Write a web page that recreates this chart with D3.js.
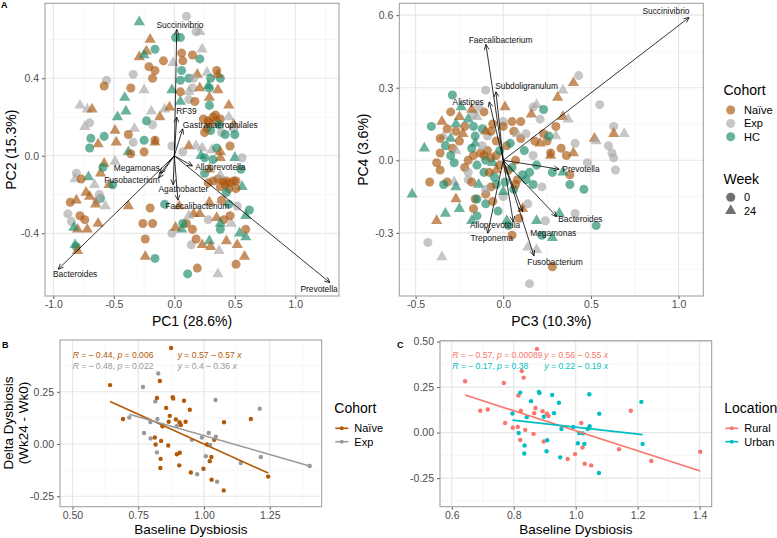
<!DOCTYPE html>
<html><head><meta charset="utf-8">
<script src="https://cdn.jsdelivr.net/npm/d3@7"></script>
<style>body{margin:0;background:#fff}text{font-family:"Liberation Sans",Arial,Helvetica,sans-serif}</style>
</head><body>
<svg id="chart" width="777" height="538"></svg>
<script>
// ---------------- DATA ----------------
const cohortNames = {N: "Naïve", E: "Exp", H: "HC"};
const cohortOrder = ["N", "E", "H"];
const weekOrder = [0, 24];

// PCA scores: [PC1, PC2, cohort, week]
const pc12Points = [
[-0.29,0.69,"H",24],[0.10,0.72,"E",0],[0.01,0.61,"H",0],[0.05,0.61,"H",0],[0.18,0.64,"E",0],[0.21,0.64,"E",24],
[-0.20,0.60,"N",24],[-0.23,0.54,"N",24],[-0.16,0.55,"H",0],[-0.29,0.51,"N",24],[-0.25,0.52,"H",24],[-0.09,0.49,"N",0],
[0.06,0.53,"N",0],[0.15,0.52,"N",0],[0.21,0.50,"H",0],[0.23,0.55,"E",24],[-0.01,0.48,"E",24],[0.07,0.49,"N",0],
[-0.21,0.46,"N",0],[-0.16,0.44,"N",0],[-0.18,0.40,"N",0],[0.06,0.44,"H",0],[0.19,0.42,"N",24],[0.27,0.43,"E",24],
[0.35,0.44,"N",0],[0.30,0.40,"H",0],[0.28,0.36,"H",24],[-0.34,0.42,"E",0],[-0.56,0.39,"E",0],[-0.58,0.36,"N",0],
[-0.25,0.34,"E",24],[-0.36,0.35,"N",0],[-0.41,0.30,"H",24],[-0.02,0.34,"H",24],[0.05,0.33,"N",0],[0.05,0.39,"H",0],
[0.12,0.40,"H",0],[0.15,0.35,"E",0],[0.38,0.40,"H",0],[0.29,0.35,"H",0],[0.36,0.34,"N",24],[0.12,0.33,"E",24],
[0.21,0.35,"N",24],[0.29,0.30,"N",24],[0.12,0.29,"E",0],[0.05,0.28,"H",24],[0.17,0.28,"N",0],[0.29,0.26,"H",0],
[0.45,0.26,"N",24],[-0.08,0.24,"E",24],[-0.04,0.25,"N",24],[-0.78,0.26,"E",24],[-0.72,0.24,"E",24],[-0.68,0.24,"N",24],
[-0.47,0.20,"H",24],[-0.40,0.23,"H",24],[-0.12,0.20,"N",24],[-0.19,0.23,"E",24],[-0.18,0.16,"E",0],[-0.23,0.18,"H",0],
[-0.74,0.15,"E",24],[-0.70,0.17,"E",0],[-0.69,0.09,"H",0],[-0.58,0.10,"H",0],[-0.49,0.13,"N",24],[-0.33,0.14,"E",24],
[-0.48,0.07,"N",24],[-0.38,0.11,"N",0],[0.24,0.19,"N",0],[0.28,0.18,"N",0],[0.32,0.20,"N",0],[0.29,0.17,"N",0],
[0.35,0.18,"N",0],[0.27,0.14,"N",0],[0.34,0.21,"N",0],[0.38,0.19,"N",0],[0.37,0.16,"H",0],[0.39,0.12,"E",0],
[0.30,0.13,"H",0],[0.25,0.12,"N",0],[0.42,0.11,"H",0],[0.45,0.20,"E",24],[0.49,0.16,"N",24],[0.49,0.14,"E",0],
[0.50,0.11,"H",0],[-0.70,0.04,"H",0],[-0.63,0.06,"N",24],[-0.25,0.08,"H",0],[-0.16,0.08,"N",0],[-0.16,0.07,"N",24],
[-0.25,0.02,"N",0],[-0.34,0.07,"E",0],[-0.38,0.02,"H",24],[-0.36,0.01,"N",0],[-0.49,-0.03,"E",24],[-0.58,-0.04,"N",24],
[0.12,0.05,"N",24],[0.18,0.05,"E",24],[-0.02,0.05,"E",0],[0.07,0.02,"E",0],[0.23,0.04,"E",24],[0.25,-0.01,"H",0],
[0.22,0.00,"H",24],[0.31,0.03,"E",24],[0.35,0.04,"H",0],[0.38,0.02,"N",24],[0.46,0.05,"N",0],[0.50,-0.01,"H",24],
[0.56,-0.01,"E",0],[0.38,-0.01,"N",24],[0.32,-0.02,"H",0],[-0.81,-0.09,"E",0],[-0.82,-0.12,"E",24],[-0.71,-0.11,"H",24],
[-0.61,-0.09,"N",24],[-0.59,-0.06,"H",0],[-0.77,-0.12,"N",0],[-0.54,-0.15,"N",24],[-0.51,-0.15,"H",0],[-0.66,-0.15,"E",24],
[0.32,-0.13,"N",0],[0.36,-0.12,"N",0],[0.40,-0.13,"N",0],[0.43,-0.13,"N",0],[0.46,-0.14,"N",0],[0.49,-0.13,"N",0],
[0.38,-0.16,"N",0],[0.42,-0.15,"N",0],[0.45,-0.17,"N",0],[0.28,-0.14,"N",0],[0.51,-0.13,"N",0],[0.25,-0.09,"H",0],
[0.29,-0.07,"N",24],[0.38,-0.10,"E",24],[0.55,-0.07,"H",0],[0.56,-0.16,"H",24],[0.51,-0.17,"N",0],[0.43,-0.19,"H",0],
[-0.73,-0.19,"N",24],[-0.81,-0.23,"N",24],[-0.86,-0.24,"N",0],[-0.61,-0.22,"H",0],[-0.62,-0.20,"E",0],[-0.64,-0.23,"E",0],
[-0.70,-0.21,"N",24],[-0.65,-0.25,"N",24],[-0.57,-0.26,"E",24],[-0.20,-0.27,"N",0],[-0.38,-0.26,"N",24],[-0.08,-0.25,"H",0],
[0.04,-0.26,"N",24],[0.29,-0.24,"N",24],[0.45,-0.25,"H",0],[0.39,-0.23,"N",0],[0.62,-0.28,"H",0],[0.59,-0.31,"H",24],
[0.52,-0.26,"E",0],[-0.26,-0.35,"N",0],[-0.18,-0.35,"N",0],[0.16,-0.30,"N",24],[0.12,-0.31,"E",24],[0.10,-0.35,"N",0],
[0.21,-0.30,"N",24],[0.28,-0.33,"E",0],[0.35,-0.32,"N",24],[0.41,-0.33,"N",0],[0.47,-0.35,"E",24],[0.46,-0.31,"N",0],
[0.06,-0.38,"H",24],[0.15,-0.38,"N",0],[-0.88,-0.30,"E",0],[-0.78,-0.31,"N",0],[-0.85,-0.34,"E",0],[-0.74,-0.33,"N",0],
[-0.80,-0.38,"N",24],[-0.72,-0.38,"N",24],[-0.83,-0.37,"H",24],[-0.63,-0.35,"N",24],[-0.02,-0.40,"E",0],[0.01,-0.37,"N",24],
[0.07,-0.35,"H",0],[-0.24,-0.43,"N",0],[-0.24,-0.52,"N",24],[-0.16,-0.53,"H",0],[0.14,-0.46,"E",0],[0.23,-0.46,"N",24],
[0.18,-0.43,"N",0],[0.29,-0.44,"H",24],[0.38,-0.35,"H",24],[0.38,-0.38,"H",0],[0.43,-0.44,"N",24],[0.52,-0.46,"N",24],
[0.54,-0.40,"H",24],[0.59,-0.42,"H",24],[0.59,-0.38,"N",0],[-0.82,-0.46,"H",24],[-0.81,-0.47,"H",0],[-0.80,-0.49,"N",24],
[0.30,-0.47,"N",24],[0.37,-0.49,"E",24],[0.58,-0.52,"N",24],[0.51,-0.56,"N",0],[0.19,-0.58,"N",0],[0.11,-0.61,"H",0],
[0.36,-0.61,"E",24],[0.16,0.40,"E",0],[0.36,0.42,"N",24]
];

// PCA scores: [PC3, PC4, cohort, week]
const pc34Points = [
[0.43,0.35,"E",0],[0.40,0.32,"N",24],[0.34,0.29,"E",24],[0.31,0.26,"N",24],[0.55,0.23,"E",0],[0.19,0.23,"E",24],
[0.17,0.22,"E",0],[0.23,0.21,"H",0],[0.16,0.19,"N",24],[0.21,0.17,"E",0],[0.34,0.18,"N",24],[0.37,0.17,"E",24],
[0.63,0.14,"E",0],[0.63,0.11,"N",24],[0.69,0.11,"E",24],[0.52,0.09,"N",24],[0.53,0.08,"E",24],[0.60,0.06,"E",0],
[0.62,0.03,"E",0],[0.63,0.01,"E",0],[0.64,-0.04,"E",0],[0.48,-0.01,"E",0],[0.41,0.07,"E",0],[0.40,0.03,"N",24],
[0.36,0.02,"N",0],[0.33,0.05,"N",0],[0.38,-0.06,"N",0],[0.38,-0.10,"H",0],[0.46,-0.12,"H",0],[0.28,-0.05,"H",0],
[0.27,0.03,"N",0],[0.34,-0.05,"H",24],[-0.10,0.29,"E",0],[-0.29,0.27,"H",0],[0.01,0.22,"N",24],[-0.24,0.22,"H",24],
[-0.30,0.20,"N",0],[-0.17,0.19,"E",0],[-0.11,0.20,"N",0],[-0.41,0.14,"H",0],[-0.35,0.16,"N",24],[-0.27,0.15,"H",24],
[-0.32,0.13,"N",0],[-0.34,0.10,"E",24],[-0.27,0.12,"N",0],[-0.22,0.14,"N",0],[-0.17,0.14,"H",0],[-0.16,0.07,"H",24],
[-0.36,0.09,"N",0],[-0.33,0.06,"H",0],[-0.29,0.05,"N",0],[-0.45,0.05,"H",24],[-0.27,0.04,"E",24],[-0.36,0.03,"N",0],
[-0.30,0.02,"H",0],[-0.38,-0.01,"N",0],[-0.36,-0.04,"N",0],[-0.28,-0.01,"H",0],[-0.42,-0.09,"N",0],[-0.52,-0.14,"H",24],
[-0.32,-0.09,"N",0],[-0.34,-0.10,"H",0],[-0.28,-0.09,"E",24],[-0.27,-0.11,"H",24],[-0.27,-0.16,"N",24],[-0.33,-0.22,"H",24],
[-0.25,-0.20,"H",24],[-0.38,-0.25,"N",24],[-0.43,-0.34,"E",0],[-0.35,-0.40,"E",24],[-0.20,-0.08,"E",0],[-0.18,-0.09,"N",0],
[-0.14,-0.10,"H",24],[-0.16,-0.16,"N",0],[-0.15,-0.16,"H",0],[-0.17,-0.20,"N",0],[-0.10,-0.18,"H",0],[-0.10,-0.14,"N",0],
[-0.03,-0.21,"H",0],[0.00,-0.15,"E",0],[0.00,-0.13,"H",24],[-0.06,-0.17,"N",0],[-0.18,-0.25,"H",24],[-0.15,-0.23,"H",0],
[0.05,-0.31,"N",0],[0.02,-0.25,"H",24],[0.03,-0.27,"H",0],[0.14,-0.36,"E",24],[0.19,-0.37,"E",24],[0.28,-0.44,"N",0],
[0.15,-0.51,"E",0],[0.14,-0.18,"E",0],[0.11,-0.20,"N",24],[0.19,-0.25,"H",24],[0.24,-0.25,"E",0],[0.32,-0.22,"H",24],
[0.41,-0.22,"E",0],[0.53,-0.27,"H",0],[0.28,-0.32,"H",24],[0.22,-0.31,"H",0],[0.09,-0.24,"N",0],[0.13,-0.08,"H",0],
[0.17,-0.10,"H",0],[0.22,-0.11,"E",0],[0.08,-0.08,"N",0],[0.11,-0.06,"H",0],[0.15,-0.05,"H",0],[0.19,-0.02,"H",0],
[0.17,0.02,"E",0],[0.12,0.04,"H",0],[0.18,0.08,"N",0],[0.10,0.09,"N",0],[0.13,0.11,"E",0],[0.06,0.12,"N",0],
[0.05,0.16,"N",0],[0.10,0.16,"N",0],[0.00,0.16,"E",0],[0.08,0.11,"E",24],[0.00,0.14,"N",0],[0.27,0.02,"N",24],
[0.21,0.07,"N",24],[0.25,0.08,"N",0],[0.30,0.10,"E",24],[0.23,0.11,"N",0],[0.30,0.14,"N",0],[0.26,0.10,"H",0],
[-0.13,0.03,"N",0],[-0.11,0.02,"N",0],[-0.09,0.04,"N",0],[-0.10,0.00,"H",0],[-0.07,0.01,"N",0],[-0.06,-0.01,"H",24],
[-0.04,0.02,"N",0],[-0.02,0.04,"H",0],[-0.17,0.02,"N",0],[-0.20,0.00,"N",0],[-0.15,-0.02,"H",0],[-0.22,-0.03,"N",0],
[-0.20,-0.05,"E",0],[-0.11,-0.05,"H",0],[-0.08,-0.05,"N",0],[-0.04,-0.04,"N",24],[-0.05,-0.07,"H",0],[0.03,-0.04,"N",0],
[0.05,-0.03,"H",0],[0.07,0.00,"N",0],[0.02,0.06,"N",0],[0.04,0.07,"H",0],[-0.04,0.08,"N",0],[-0.09,0.10,"E",0],
[-0.07,0.12,"N",0],[-0.12,0.13,"H",0],[-0.06,0.15,"N",0],[-0.16,0.10,"H",0],[-0.10,0.12,"N",24],[-0.18,0.05,"H",0],
[-0.25,0.08,"N",0],[-0.12,0.06,"E",0],[-0.02,-0.02,"N",0],[0.01,-0.09,"H",0],[-0.04,-0.10,"H",0],[-0.07,-0.11,"N",0],
[-0.10,-0.12,"E",0],[0.06,-0.12,"H",0],[0.07,-0.10,"N",0],[-0.25,0.18,"N",24],[-0.20,0.17,"H",24],[-0.15,0.18,"E",24],
[-0.23,0.11,"N",24],[-0.30,0.09,"H",24],[-0.18,0.21,"N",24],[-0.14,0.22,"E",0]
];

// Loadings: [taxon, PC1, PC2, labelPC1, labelPC2]
const loadings12 = [
["Succinivibrio",0.02,0.652,0.047,0.675],["RF39",0.02,0.20,0.10,0.23],
["Gastranaerophilales",0.07,0.14,0.38,0.16],["Alloprevotella",0.15,-0.053,0.38,-0.06],
["Megamonas",-0.118,-0.091,-0.31,-0.065],["Fusobacterium",-0.13,-0.115,-0.35,-0.125],
["Agathobacter",-0.01,-0.15,0.075,-0.172],["Faecalibacterium",0.03,-0.23,0.19,-0.258],
["Bacteroides",-0.96,-0.586,-0.82,-0.612],["Prevotella",1.287,-0.655,1.196,-0.69]
];
// Loadings: [taxon, PC3, PC4, labelPC3, labelPC4]
const loadings34 = [
["Succinivibrio",1.061,0.591,0.928,0.618],["Faecalibacterium",-0.099,0.479,-0.015,0.497],
["Subdoligranulum",-0.042,0.284,0.133,0.307],["Alistipes",-0.08,0.242,-0.20,0.242],
["Prevotella",0.32,-0.037,0.443,-0.036],["Bacteroides",0.305,-0.233,0.44,-0.245],
["Megamonas",0.11,-0.212,0.285,-0.30],["Alloprevotella",0.057,-0.254,-0.047,-0.267],
["Treponema",-0.089,-0.302,-0.066,-0.321],["Fusobacterium",0.175,-0.395,0.295,-0.419]
];

// Dysbiosis: [baseline, delta, cohort, location]
const dysbiosis = [
[0.643,0.282,"Naïve","Rural"],[0.692,0.120,"Naïve","Rural"],[0.716,0.127,"Exp","Rural"],[0.768,0.273,"Exp","Rural"],
[0.772,0.053,"Exp","Rural"],[0.797,0.027,"Exp","Rural"],[0.813,0.031,"Naïve","Rural"],[0.815,0.204,"Exp","Rural"],
[0.823,0.120,"Exp","Rural"],[0.826,0.338,"Exp","Rural"],[0.832,0.302,"Naïve","Rural"],[0.837,0.015,"Naïve","Rural"],
[0.821,-0.040,"Exp","Rural"],[0.864,-0.007,"Naïve","Rural"],[0.870,0.135,"Naïve","Rural"],[0.866,0.107,"Naïve","Rural"],
[0.875,0.460,"Naïve","Rural"],[0.893,0.118,"Naïve","Rural"],[0.907,0.104,"Naïve","Rural"],[0.912,0.091,"Naïve","Rural"],
[0.897,-0.049,"Naïve","Rural"],[0.974,-0.145,"Exp","Rural"],[0.998,-0.118,"Naïve","Rural"],[1.018,0.053,"Exp","Rural"],
[1.022,-0.082,"Naïve","Rural"],[1.029,-0.171,"Naïve","Rural"],[1.050,-0.180,"Exp","Rural"],[1.140,-0.091,"Exp","Rural"],
[1.178,0.120,"Naïve","Rural"],[1.244,-0.156,"Naïve","Rural"],[1.402,-0.105,"Exp","Rural"],
[0.796,0.105,"Exp","Urban"],[0.821,0.220,"Naïve","Urban"],[0.816,-0.002,"Naïve","Urban"],[0.835,-0.071,"Naïve","Urban"],
[0.834,-0.115,"Naïve","Urban"],[0.842,0.085,"Naïve","Urban"],[0.856,0.173,"Naïve","Urban"],[0.881,0.224,"Naïve","Urban"],
[0.883,0.218,"Naïve","Urban"],[0.897,0.087,"Exp","Urban"],[0.908,-0.042,"Naïve","Urban"],[0.906,-0.102,"Naïve","Urban"],
[0.924,0.207,"Naïve","Urban"],[0.930,0.107,"Naïve","Urban"],[0.946,0.164,"Naïve","Urban"],[0.954,0.020,"Exp","Urban"],
[0.950,-0.136,"Naïve","Urban"],[0.992,0.031,"Exp","Urban"],[1.007,-0.058,"Exp","Urban"],[1.011,-0.002,"Naïve","Urban"],
[1.023,-0.004,"Exp","Urban"],[1.028,-0.062,"Naïve","Urban"],[1.044,0.211,"Exp","Urban"],[1.045,0.035,"Exp","Urban"],
[1.039,0.020,"Naïve","Urban"],[1.076,0.104,"Naïve","Urban"],[1.075,-0.222,"Naïve","Urban"],[1.212,0.169,"Exp","Urban"],
[1.216,-0.062,"Exp","Urban"]
];

// Fits: [group, intercept, slope, R label, p label, intercept label, slope label]
const cohortFits = [["Naïve",0.57,-0.57,"−0.44","0.006","0.57","0.57"],["Exp",0.40,-0.36,"−0.48","0.022","0.4","0.36"]];
const locationFits = [["Rural",0.56,-0.55,"−0.57","0.00089","0.56","0.55"],["Urban",0.22,-0.19,"−0.17","0.38","0.22","0.19"]];

// Ticks
const pc1Ticks = [-1.0,-0.5,0,0.5,1.0], pc1Minor = [-0.75,-0.25,0.25,0.75,1.25];
const pc2Ticks = [-0.4,0,0.4], pc2Minor = [-0.6,-0.2,0.2,0.6];
const pc3Ticks = [-0.5,0,0.5,1.0], pc3Minor = [-0.25,0.25,0.75];
const pc4Ticks = [-0.3,0,0.3,0.6], pc4Minor = [-0.45,-0.15,0.15,0.45];
const bXTicks = [0.5,0.75,1.0,1.25], bXMinor = [0.625,0.875,1.125,1.375];
const bYTicks = [-0.25,0,0.25], bYMinor = [-0.125,0.125,0.375];
const cXTicks = [0.6,0.8,1.0,1.2,1.4], cXMinor = [0.7,0.9,1.1,1.3];
const cYTicks = [-0.25,0,0.25,0.5], cYMinor = [-0.375,-0.125,0.125,0.375];

// ---------------- STYLE ----------------
const pcaColor = {N: "#A9560F", E: "#A8A8A8", H: "#1B8A6B"};
const pcaOpacity = 0.66;
const cohortColor = {"Naïve": "#B35806", "Exp": "#999999"};
const locationColor = {"Rural": "#F8766D", "Urban": "#00BFC4"};
const tickGray = "#4D4D4D";

const svg = d3.select("#chart");
const hy = f => (d => f(d).replace("−", "-"));

function panel(box, xDom, yDom, xT, xM, yT, yM, xf, yf) {
  const x = d3.scaleLinear().domain(xDom).range([box.x0, box.x1]);
  const y = d3.scaleLinear().domain(yDom).range([box.y1, box.y0]);
  const g = svg.append("g");
  g.append("rect").attr("x", box.x0).attr("y", box.y0).attr("width", box.x1 - box.x0).attr("height", box.y1 - box.y0).attr("fill", "#fff");
  const grid = g.append("g");
  grid.selectAll(".vx").data(xM).join("line").attr("x1", x).attr("x2", x).attr("y1", box.y0).attr("y2", box.y1).attr("stroke", "#F2F2F2").attr("stroke-width", 0.6);
  grid.selectAll(".hy").data(yM).join("line").attr("y1", y).attr("y2", y).attr("x1", box.x0).attr("x2", box.x1).attr("stroke", "#F2F2F2").attr("stroke-width", 0.6);
  grid.selectAll(".vX").data(xT).join("line").attr("x1", x).attr("x2", x).attr("y1", box.y0).attr("y2", box.y1).attr("stroke", "#E6E6E6").attr("stroke-width", 1.1);
  grid.selectAll(".hY").data(yT).join("line").attr("y1", y).attr("y2", y).attr("x1", box.x0).attr("x2", box.x1).attr("stroke", "#E6E6E6").attr("stroke-width", 1.1);
  const ax = g.append("g").attr("transform", `translate(0,${box.y1})`)
    .call(d3.axisBottom(x).tickValues(xT).tickFormat(hy(xf)).tickSize(3).tickPadding(2));
  const ay = g.append("g").attr("transform", `translate(${box.x0},0)`)
    .call(d3.axisLeft(y).tickValues(yT).tickFormat(hy(yf)).tickSize(3).tickPadding(3));
  [ax, ay].forEach(a => {
    a.select(".domain").remove();
    a.selectAll(".tick line").attr("stroke", "#333").attr("stroke-width", 0.8);
    a.selectAll(".tick text").attr("fill", tickGray).style("font-size", "10.5px").style("font-family", "'Liberation Sans',Arial,sans-serif");
  });
  const layer = g.append("g");
  g.append("rect").attr("x", box.x0).attr("y", box.y0).attr("width", box.x1 - box.x0).attr("height", box.y1 - box.y0)
    .attr("fill", "none").attr("stroke", "#9A9A9A").attr("stroke-width", 1);
  return {x, y, layer};
}

function title(txt, xx, yy, rot, size) {
  svg.append("text").attr("transform", `translate(${xx},${yy})` + (rot ? " rotate(-90)" : ""))
    .attr("text-anchor", "middle").style("font-size", (size || 14) + "px").attr("fill", "#000").text(txt);
}

// arrow marker
svg.append("defs").append("marker").attr("id", "arr").attr("viewBox", "0 0 10 10")
  .attr("refX", 10).attr("refY", 5).attr("markerWidth", 6).attr("markerHeight", 6)
  .attr("markerUnits", "userSpaceOnUse").attr("orient", "auto")
  .append("path").attr("d", "M1,1 L10,5 L1,9").attr("fill", "none").attr("stroke", "#000").attr("stroke-width", 1.2);

function symPath(week, size) {
  return week === 0 ? d3.symbol().type(d3.symbolCircle).size(size)() : d3.symbol().type(d3.symbolTriangle).size(size * 0.85)();
}

function biplot(p, pts, loads) {
  p.layer.selectAll(".pt").data(pts).join("path")
    .attr("transform", d => `translate(${p.x(d[0])},${p.y(d[1])})`)
    .attr("d", d => symPath(d[3], 64))
    .attr("fill", d => pcaColor[d[2]]).attr("fill-opacity", pcaOpacity);
  p.layer.selectAll(".ld").data(loads).join("line")
    .attr("x1", p.x(0)).attr("y1", p.y(0)).attr("x2", d => p.x(d[1])).attr("y2", d => p.y(d[2]))
    .attr("stroke", "#000").attr("stroke-width", 0.8).attr("marker-end", "url(#arr)");
  p.layer.selectAll(".lt").data(loads).join("text")
    .attr("x", d => p.x(d[3])).attr("y", d => p.y(d[4])).attr("dy", "0.35em")
    .attr("text-anchor", "middle").style("font-size", "8.4px").attr("fill", "#111").text(d => d[0]);
}

// ---------------- PANEL A ----------------
const pA1 = panel({x0: 45, x1: 339, y0: 3.3, y1: 296}, [-1.069, 1.361], [-0.724, 0.787],
  pc1Ticks, pc1Minor, pc2Ticks, pc2Minor, d3.format(".1f"), d3.format(".1f"));
biplot(pA1, pc12Points, loadings12);
title("PC1 (28.6%)", 192, 326);
title("PC2 (15.3%)", 15.5, 149.7, true);

const pA2 = panel({x0: 399.3, x1: 703.3, y0: 3.3, y1: 296}, [-0.593, 1.141], [-0.561, 0.649],
  pc3Ticks, pc3Minor, pc4Ticks, pc4Minor, d3.format(".1f"), d3.format(".1f"));
biplot(pA2, pc34Points, loadings34);
title("PC3 (10.3%)", 551.3, 326);
title("PC4 (3.6%)", 368, 149.7, true);

// legend A
const lgA = svg.append("g");
lgA.append("text").attr("x", 723.5).attr("y", 95).style("font-size", "14px").text("Cohort");
cohortOrder.forEach((c, i) => {
  const yy = 110 + i * 13.4;
  lgA.append("path").attr("transform", `translate(730.7,${yy})`).attr("d", symPath(0, 64))
    .attr("fill", pcaColor[c]).attr("fill-opacity", pcaOpacity);
  lgA.append("text").attr("x", 744).attr("y", yy + 4).style("font-size", "11px").text(cohortNames[c]);
});
lgA.append("text").attr("x", 723.5).attr("y", 183.5).style("font-size", "14px").text("Week");
weekOrder.forEach((w, i) => {
  const yy = 197.3 + i * 13.4;
  lgA.append("path").attr("transform", `translate(730.7,${yy})`).attr("d", symPath(w, 64))
    .attr("fill", "#333").attr("fill-opacity", 0.7);
  lgA.append("text").attr("x", 744).attr("y", yy + 4).style("font-size", "11px").text(w);
});

// ---------------- PANEL B / C ----------------
function dysPanel(p, groupIdx, colors, fits, ann) {
  p.layer.selectAll(".dp").data(dysbiosis).join("circle")
    .attr("cx", d => p.x(d[0])).attr("cy", d => p.y(d[1])).attr("r", 2.2)
    .attr("fill", d => colors[d[groupIdx]]);
  fits.forEach(f => {
    const ext = d3.extent(dysbiosis.filter(d => d[groupIdx] === f[0]), d => d[0]);
    p.layer.append("line")
      .attr("x1", p.x(ext[0])).attr("y1", p.y(f[1] + f[2] * ext[0]))
      .attr("x2", p.x(ext[1])).attr("y2", p.y(f[1] + f[2] * ext[1]))
      .attr("stroke", colors[f[0]]).attr("stroke-width", 1.6);
  });
  fits.forEach((f, i) => {
    const yy = ann.y + i * 11;
    const t1 = p.layer.append("text").attr("x", ann.x1).attr("y", yy).style("font-size", "8.6px").attr("fill", colors[f[0]]);
    t1.append("tspan").style("font-style", "italic").text("R");
    t1.append("tspan").text(" = " + f[3].replace("−", "– ") + ", ");
    t1.append("tspan").style("font-style", "italic").text("p");
    t1.append("tspan").text(" = " + f[4]);
    const t2 = p.layer.append("text").attr("x", ann.x2).attr("y", yy).style("font-size", "8.6px").attr("fill", colors[f[0]]);
    t2.append("tspan").style("font-style", "italic").text("y");
    t2.append("tspan").text(" = " + f[5] + " – " + f[6] + " ");
    t2.append("tspan").style("font-style", "italic").text("x");
  });
}

const pB = panel({x0: 60, x1: 321.7, y0: 340, y1: 506.7}, [0.4525, 1.4475], [-0.300, 0.498],
  bXTicks, bXMinor, bYTicks, bYMinor, d3.format(".2f"), d3.format(".2f"));
dysPanel(pB, 2, cohortColor, cohortFits, {x1: 72.7, x2: 177.7, y: 358});
title("Baseline Dysbiosis", 190.8, 534, false, 13.5);
title("Delta Dysbiosis", 13, 423, true, 13.5);
title("(Wk24 - Wk0)", 28, 423, true, 13.5);

const pC = panel({x0: 440, x1: 711.7, y0: 340.7, y1: 506.7}, [0.562, 1.439], [-0.407, 0.505],
  cXTicks, cXMinor, cYTicks, cYMinor, d3.format(".1f"), d3.format(".2f"));
dysPanel(pC, 3, locationColor, locationFits, {x1: 452.3, x2: 544.3, y: 358});
title("Baseline Dysbiosis", 575.8, 534, false, 13.5);

function lineLegend(x, ttl, keys, colors) {
  const g = svg.append("g");
  g.append("text").attr("x", x).attr("y", 413).style("font-size", "14px").text(ttl);
  keys.forEach((k, i) => {
    const yy = 428.3 + i * 13.4;
    g.append("line").attr("x1", x + 1).attr("x2", x + 14).attr("y1", yy).attr("y2", yy).attr("stroke", colors[k]).attr("stroke-width", 1.6);
    g.append("circle").attr("cx", x + 7.5).attr("cy", yy).attr("r", 2).attr("fill", colors[k]);
    g.append("text").attr("x", x + 20).attr("y", yy + 4).style("font-size", "11px").text(k);
  });
}
lineLegend(334.3, "Cohort", ["Naïve", "Exp"], cohortColor);
lineLegend(724.3, "Location", ["Rural", "Urban"], locationColor);

// panel tags
svg.append("text").attr("x", 1).attr("y", 8).style("font-size", "9px").style("font-weight", "bold").text("A");
svg.append("text").attr("x", 2).attr("y", 348).style("font-size", "9px").style("font-weight", "bold").text("B");
svg.append("text").attr("x", 397).attr("y", 348).style("font-size", "9px").style("font-weight", "bold").text("C");
</script>
</body></html>
